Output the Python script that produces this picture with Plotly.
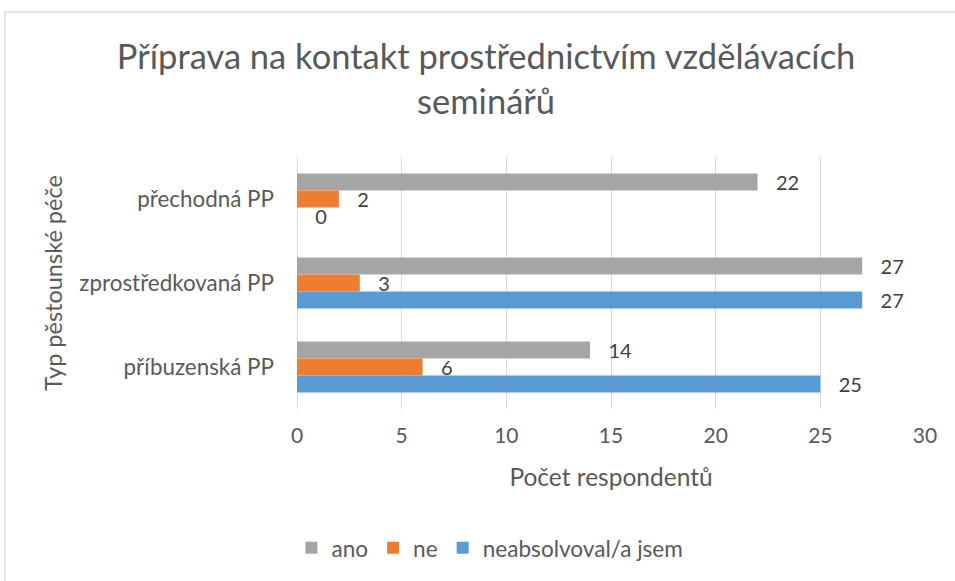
import plotly.graph_objects as go

categories = ["příbuzenská PP", "zprostředkovaná PP", "přechodná PP"]
ano = [14, 27, 22]
ne = [6, 3, 2]
neabsolvoval = [25, 27, 0]
x_ticks = [0, 5, 10, 15, 20, 25, 30]

FONT = "Lato, Carlito, Calibri, sans-serif"
TXT = "#595959"
GRID = "#D9D9D9"

fig = go.Figure()
series = [
    ("neabsolvoval/a jsem", neabsolvoval, "#5B9BD5"),
    ("ne", ne, "#ED7D31"),
    ("ano", ano, "#A5A5A5"),
]
for name, vals, col in series:
    fig.add_trace(go.Bar(
        name=name, y=categories, x=vals, orientation="h",
        marker=dict(color=col, line=dict(width=0)),
        text=vals, texttemplate="   %{x}", textposition="outside",
        constraintext="none",
        textfont=dict(family=FONT, size=20, color="#404040"),
        cliponaxis=False,
    ))

fig.update_layout(
    width=955, height=581,
    margin=dict(l=297, r=30, t=157, b=172),
    paper_bgcolor="white", plot_bgcolor="white",
    barmode="group", bargap=0.39, bargroupgap=0,
    font=dict(family=FONT, color=TXT),
    title=dict(
        text="Příprava na kontakt prostřednictvím vzdělávacích<br>seminářů",
        x=0.509, xref="container", xanchor="center",
        y=1 - 69 / 581, yref="container", yanchor="middle",
        font=dict(family=FONT, size=34.5, color=TXT),
    ),
    xaxis=dict(
        range=[0, 30], tickvals=x_ticks, showgrid=True, gridcolor=GRID, gridwidth=1,
        zeroline=True, zerolinecolor=GRID, zerolinewidth=1, showline=False,
        tickfont=dict(family=FONT, size=21, color=TXT), ticklabelstandoff=12,
        automargin=False,
        title=dict(text="Počet respondentů", font=dict(family=FONT, size=24.5, color=TXT), standoff=22),
    ),
    yaxis=dict(
        categoryorder="array", categoryarray=categories, showgrid=False,
        tickfont=dict(family=FONT, size=22.4, color=TXT), ticklabelstandoff=22,
        showline=False, zeroline=False, automargin=False,
        title=dict(text="Typ pěstounské péče", font=dict(family=FONT, size=23.5, color=TXT), standoff=10),
    ),
    legend=dict(
        orientation="h", traceorder="reversed",
        x=0.513, xref="container", xanchor="center",
        y=1 - 548 / 581, yref="container", yanchor="middle",
        font=dict(family=FONT, size=22.6, color=TXT),
        itemwidth=30,
    ),
    showlegend=True,
    shapes=[dict(
        type="rect", xref="paper", yref="paper",
        x0=-0.465, x1=1.2, y0=-1.2, y1=1.575,
        line=dict(color=GRID, width=1.5), fillcolor="rgba(0,0,0,0)", layer="below",
    )],
)

fig.write_html(
    "out.html",
    config={"displayModeBar": False},
    post_script="document.body.style.margin='0';document.body.style.overflow='hidden';",
)
